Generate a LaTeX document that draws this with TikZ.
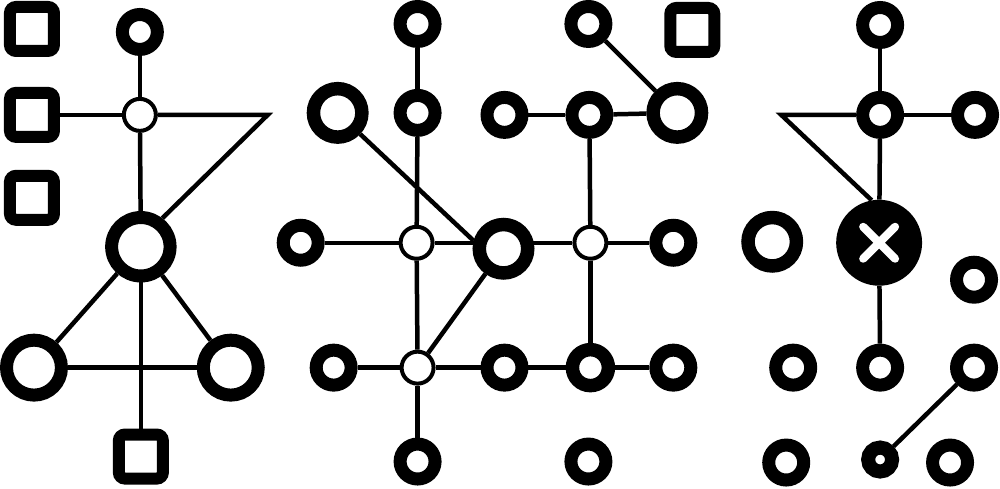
\documentclass[tikz,border=0pt]{standalone}
\usetikzlibrary{backgrounds}
\begin{document}
\begin{tikzpicture}[x=1pt,y=-1pt,
  conn/.style={line width=4.5pt},
  sring/.style={circle,draw,fill=white,inner sep=0pt,minimum size=35pt,line width=13pt},
  bring/.style={circle,draw,fill=white,inner sep=0pt,minimum size=48.5pt,line width=13.5pt},
  hring/.style={circle,draw,fill=white,inner sep=0pt,minimum size=58.5pt,line width=13pt},
  lring/.style={circle,draw,fill=white,inner sep=0pt,minimum size=55pt,line width=13pt},
  tring/.style={circle,draw,fill=white,inner sep=0pt,minimum size=24pt,line width=14pt},
  junc/.style={circle,draw,fill=white,inner sep=0pt,minimum size=32pt,line width=4pt},
  sqbox/.style={rectangle,draw,fill=white,inner sep=0pt,minimum size=44pt,line width=12pt,rounded corners=6pt},
  xnode/.style={circle,fill=black,inner sep=0pt,minimum size=86pt},
  xbar/.style={white,line width=8pt,line cap=round}
]
% ---------- left panel ----------
\node[sqbox] (sq1) at (31,29) {};
\node[sqbox] (sq2) at (31,115) {};
\node[sqbox] (sq3) at (31,198) {};
\node[sring] (topL) at (139,32) {};
\node[junc]  (jL) at (139,115) {};
\node[hring] (bigL) at (140,247) {};
\node[lring] (blL) at (33,368) {};
\node[lring] (brL) at (230,368) {};
\node[sqbox] (sqB) at (140,457) {};
\coordinate (tipL) at (267,115);
% ---------- middle panel ----------
\node[sring] (A) at (417,24) {};
\node[sring] (G) at (588,24) {};
\node[sqbox] (H) at (692,30) {};
\node[bring] (C) at (337,113) {};
\node[sring] (B) at (417,113) {};
\node[sring] (D) at (504,115) {};
\node[sring] (E) at (589,115) {};
\node[bring] (F) at (677,113) {};
\node[sring] (I) at (300,243) {};
\node[junc]  (J) at (416,243) {};
\node[bring] (K) at (503,249) {};
\node[junc]  (L) at (590,243) {};
\node[sring] (M) at (673,243) {};
\node[sring] (N) at (333,368) {};
\node[junc]  (O) at (417,368) {};
\node[sring] (P) at (504,368) {};
\node[sring,minimum size=36pt,line width=13.5pt] (Q) at (590,368) {};
\node[sring] (R) at (673,368) {};
\node[sring] (S) at (417,462) {};
\node[sring] (T) at (588,462) {};
% ---------- right panel ----------
\node[sring] (rA) at (880,25) {};
\node[sring] (rB) at (880,115) {};
\node[sring] (rC) at (975,115) {};
\coordinate (tipR) at (781,115);
\node[xnode] (X) at (879,243) {};
\draw[xbar] ([shift={(-16,-16)}]X.center) -- ([shift={(16,16)}]X.center);
\draw[xbar] ([shift={(-16,16)}]X.center) -- ([shift={(16,-16)}]X.center);
\node[bring] (rD) at (772,242) {};
\node[sring] (rE) at (974,280) {};
\node[sring] (rF) at (793,368) {};
\node[sring] (rG) at (880,368) {};
\node[sring] (rH) at (974,368) {};
\node[sring] (rI) at (786,463) {};
\node[tring] (rJ) at (880,460) {};
\node[sring] (rK) at (950,463) {};
% ---------- connectors ----------
\begin{scope}[on background layer]
\fill[white] (0,0) rectangle (1000,489);
% left
\draw[conn] (sq2) -- (jL);
\draw[conn] (topL) -- (jL);
\draw[conn] (jL) -- (bigL);
\draw[conn] (bigL) -- (sqB);
\draw[conn,line join=miter] (jL) -- (tipL) -- (bigL.53);
\draw[conn] (bigL) -- (blL);
\draw[conn] (bigL) -- (brL);
\draw[conn] (blL) -- (brL);
% middle
\draw[conn] (A) -- (B);
\draw[conn] (B) -- (J);
\draw[conn] (J) -- (O);
\draw[conn] (O) -- (S);
\draw[conn] (G) -- (F);
\draw[conn] (D) -- (E);
\draw[conn] (E) -- (F);
\draw[conn] (E) -- (L);
\draw[conn] (L) -- (Q);
\draw[conn] (I) -- (J);
\draw[conn] (J) -- (L);
\draw[conn] (L) -- (M);
\draw[conn] (C) -- (K.165);
\draw[conn] (K) -- (O);
\draw[conn] (N) -- (O);
\draw[conn] (O) -- (P);
\draw[conn] (P) -- (Q);
\draw[conn] (Q) -- (R);
% right
\draw[conn] (rA) -- (rB);
\draw[conn] (rB) -- (rC);
\draw[conn] (rB) -- (X);
\draw[conn] (X) -- (rG);
\draw[conn,line join=miter] (rB) -- (tipR) -- (X.100);
\draw[conn] (rH) -- (rJ);
\end{scope}
\end{tikzpicture}
\end{document}
